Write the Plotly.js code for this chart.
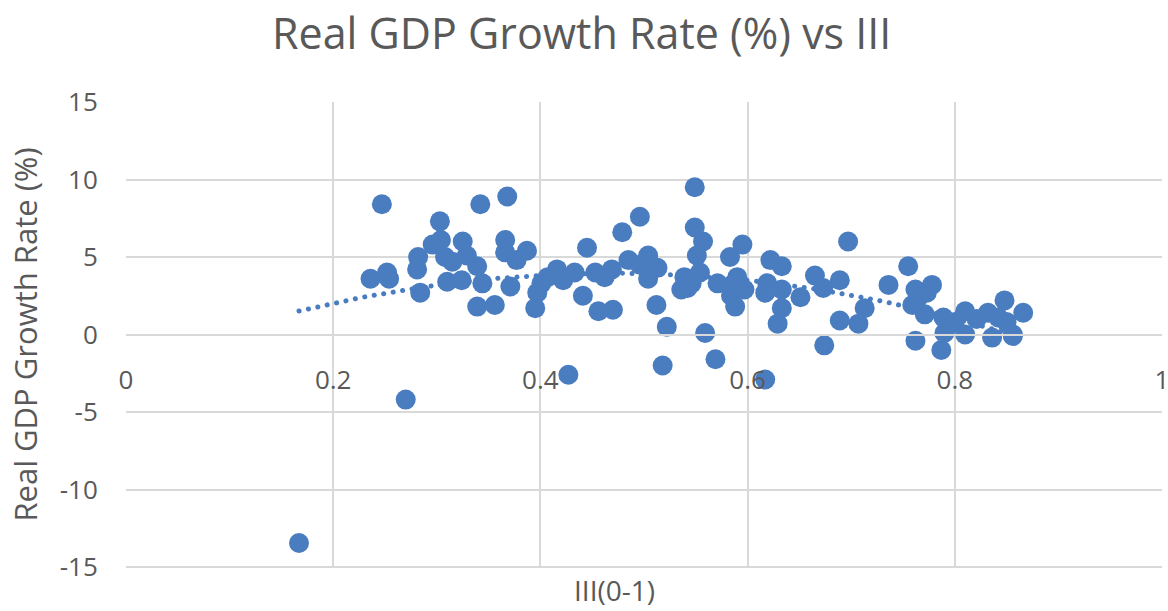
<!DOCTYPE html>
<html>
<head>
<meta charset="utf-8">
<script src="https://cdn.plot.ly/plotly-3.0.1.min.js"></script>
<style>
  html, body { margin: 0; padding: 0; background: #ffffff; }
  #chart { width: 1168px; height: 611px; }
  /* round caps turn the dotted trendline into round dots */
  #chart .js-line { stroke-linecap: round; }
</style>
</head>
<body>
<div id="chart"></div>
<script>
// III index (0-1) per observation
const iii = [
  0.167, 0.247, 0.270, 0.236, 0.252, 0.254, 0.282, 0.281, 0.284, 0.303,
  0.296, 0.304, 0.308, 0.315, 0.310, 0.325, 0.329, 0.324, 0.339, 0.344,
  0.339, 0.356, 0.342, 0.368, 0.366, 0.366, 0.377, 0.387, 0.371, 0.395,
  0.397, 0.401, 0.407, 0.416, 0.422, 0.433, 0.445, 0.441, 0.453, 0.462,
  0.456, 0.470, 0.469, 0.479, 0.485, 0.496, 0.427, 0.504, 0.496, 0.513,
  0.504, 0.512, 0.522, 0.518, 0.549, 0.549, 0.557, 0.551, 0.554, 0.539,
  0.542, 0.546, 0.559, 0.569, 0.571, 0.583, 0.595, 0.590, 0.585, 0.597,
  0.588, 0.622, 0.619, 0.617, 0.633, 0.629, 0.617, 0.697, 0.633, 0.633,
  0.651, 0.665, 0.673, 0.689, 0.674, 0.689, 0.707, 0.713, 0.736, 0.755,
  0.762, 0.759, 0.762, 0.778, 0.773, 0.771, 0.789, 0.787, 0.793, 0.790,
  0.810, 0.810, 0.821, 0.832, 0.836, 0.848, 0.850, 0.856, 0.866, 0.765,
  0.800, 0.842, 0.856, 0.536, 0.584
];

// Real GDP growth rate (%) per observation
const gdpGrowth = [
  -13.45, 8.4, -4.2, 3.6, 4.0, 3.6, 5.0, 4.2, 2.7, 7.3,
  5.8, 6.1, 5.0, 4.7, 3.4, 6.0, 5.1, 3.5, 4.4, 3.3,
  1.8, 1.9, 8.4, 8.9, 6.1, 5.3, 4.8, 5.4, 3.1, 1.7,
  2.7, 3.3, 3.7, 4.2, 3.5, 4.0, 5.6, 2.5, 4.0, 3.7,
  1.5, 1.6, 4.2, 6.6, 4.8, 7.6, -2.6, 5.1, 4.5, 4.3,
  3.6, 1.9, 0.5, -2.0, 9.5, 6.9, 6.0, 5.1, 4.0, 3.7,
  3.0, 3.3, 0.1, -1.6, 3.3, 5.0, 5.8, 3.7, 3.0, 2.9,
  1.8, 4.8, 3.3, 2.7, 4.4, 0.7, -2.9, 6.0, 2.9, 1.7,
  2.4, 3.8, 3.0, 3.5, -0.7, 0.9, 0.7, 1.7, 3.2, 4.4,
  2.9, 1.9, -0.4, 3.2, 2.7, 1.3, 1.1, -1.0, 0.5, 0.1,
  1.5, 0.0, 1.0, 1.4, -0.2, 2.2, 0.8, 0.0, 1.4, 2.4,
  0.8, 1.1, -0.1, 2.9, 2.5
];

const xTickVals = [0, 0.2, 0.4, 0.6, 0.8, 1];
const xTickText = ['0', '0.2', '0.4', '0.6', '0.8', '1'];
const yTickVals = [-15, -10, -5, 0, 5, 10, 15];
const yTickText = ['-15', '-10', '-5', '0', '5', '10', '15'];

// Second-order polynomial least-squares trendline of growth on III
function quadFit(xs, ys) {
  const n = xs.length;
  let s = [0, 0, 0, 0, 0], t = [0, 0, 0];
  for (let i = 0; i < n; i++) {
    const x = xs[i], y = ys[i];
    let p = 1;
    for (let k = 0; k < 5; k++) { s[k] += p; if (k < 3) t[k] += p * y; p *= x; }
  }
  // normal equations [s0 s1 s2; s1 s2 s3; s2 s3 s4] * [a b c] = [t0 t1 t2]
  const M = [[s[0], s[1], s[2], t[0]], [s[1], s[2], s[3], t[1]], [s[2], s[3], s[4], t[2]]];
  for (let c = 0; c < 3; c++) {
    let piv = c;
    for (let r = c + 1; r < 3; r++) if (Math.abs(M[r][c]) > Math.abs(M[piv][c])) piv = r;
    [M[c], M[piv]] = [M[piv], M[c]];
    for (let r = 0; r < 3; r++) {
      if (r === c) continue;
      const f = M[r][c] / M[c][c];
      for (let k = c; k < 4; k++) M[r][k] -= f * M[c][k];
    }
  }
  return [M[0][3] / M[0][0], M[1][3] / M[1][1], M[2][3] / M[2][2]];
}

const [a0, a1, a2] = quadFit(iii, gdpGrowth);
const xMin = Math.min(...iii), xMax = Math.max(...iii);
const trendX = [], trendY = [];
for (let i = 0; i <= 120; i++) {
  const x = xMin + (xMax - xMin) * i / 120;
  trendX.push(x);
  trendY.push(a0 + a1 * x + a2 * x * x);
}

const blue = '#4a7dc0';
const textGray = '#595959';
const gridGray = '#d9d9d9';
const font = 'Open Sans, Noto Sans, sans-serif';

const traces = [
  {
    x: iii, y: gdpGrowth,
    type: 'scatter', mode: 'markers',
    marker: { color: blue, size: 20, line: { width: 0 } },
    hoverinfo: 'x+y', showlegend: false
  },
  {
    x: trendX, y: trendY,
    type: 'scatter', mode: 'lines',
    line: { color: blue, width: 5, dash: '0.1px,9.5px' },
    hoverinfo: 'skip', showlegend: false
  }
];

const layout = {
  width: 1168, height: 611,
  paper_bgcolor: '#ffffff', plot_bgcolor: '#ffffff',
  margin: { l: 126, r: 6, t: 102, b: 44, pad: 0 },
  font: { family: font, color: textGray },
  title: {
    text: 'Real GDP Growth Rate (%) vs III',
    font: { family: font, size: 43, color: textGray },
    x: 0.498, xref: 'container', xanchor: 'center',
    y: 0.945, yref: 'container', yanchor: 'middle'
  },
  xaxis: {
    range: [0, 1],
    tickvals: xTickVals, ticktext: xTickText,
    anchor: 'free', position: 0.5,
    showgrid: true, gridcolor: gridGray, gridwidth: 2,
    zeroline: false,
    showline: true, linecolor: gridGray, linewidth: 2,
    ticks: 'outside', ticklen: 22, tickcolor: 'rgba(0,0,0,0)',
    ticklabeloverflow: 'allow',
    tickfont: { family: font, size: 26, color: textGray },
    fixedrange: true
  },
  yaxis: {
    range: [-15, 15],
    tickvals: yTickVals, ticktext: yTickText,
    showgrid: true, gridcolor: gridGray, gridwidth: 2,
    zeroline: false, showline: false,
    ticks: 'outside', ticklen: 22, tickcolor: 'rgba(0,0,0,0)',
    tickfont: { family: font, size: 26, color: textGray },
    title: { text: 'Real GDP Growth Rate (%)', font: { family: font, size: 31, color: textGray }, standoff: 12 },
    automargin: false,
    fixedrange: true
  },
  shapes: [
    // bottom edge of the plot area
    { type: 'line', xref: 'paper', yref: 'paper', x0: 0, x1: 1, y0: 0, y1: 0, line: { color: gridGray, width: 2 }, layer: 'below' }
  ],
  annotations: [
    {
      text: 'III(0-1)', xref: 'paper', yref: 'paper', x: 0.472, y: 0,
      xanchor: 'center', yanchor: 'top', yshift: -2, showarrow: false,
      font: { family: font, size: 28, color: textGray }
    }
  ]
};

Plotly.newPlot('chart', traces, layout, { displayModeBar: false, staticPlot: true });
</script>
</body>
</html>
